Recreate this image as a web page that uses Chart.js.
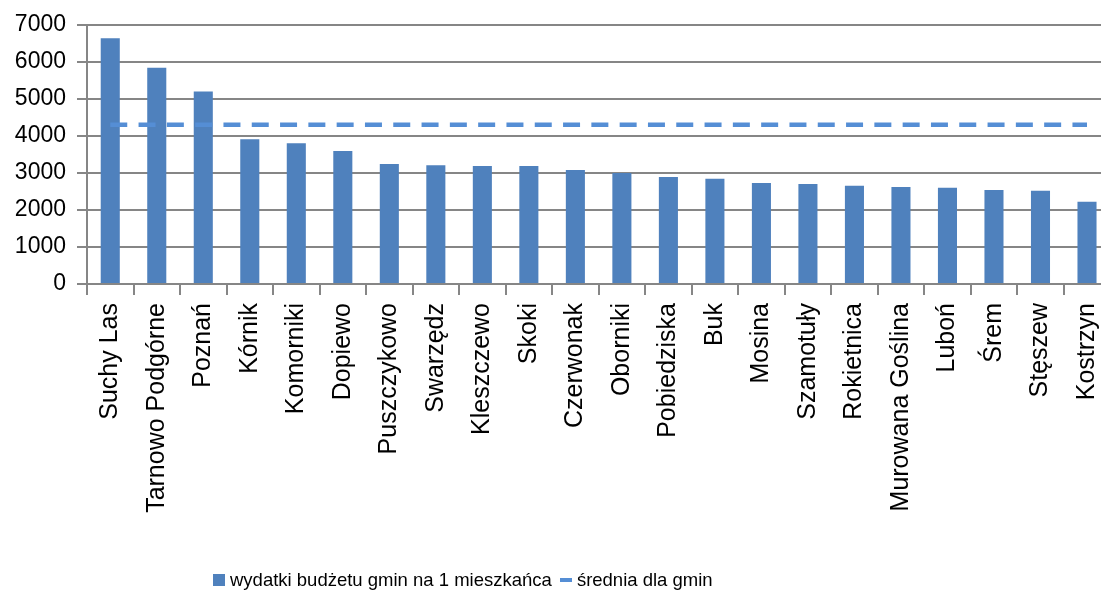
<!DOCTYPE html>
<html>
<head>
<meta charset="utf-8">
<script src="https://cdn.jsdelivr.net/npm/chart.js@4"></script>
<style>
    body { margin: 0; overflow: hidden; background: #fff; }
    #wrap { position: relative; width: 1101px; height: 593px; overflow: hidden; }
    #legend { position: absolute; left: 213px; top: 569px; display: flex; align-items: center;
              font-family: "Liberation Sans", Arial, sans-serif; font-size: 18.5px; color: #000; white-space: nowrap; }
    .item { display: flex; align-items: center; margin-right: 8px; }
    .marker { display: inline-block; margin-right: 5px; }
</style>
</head>
<body>
<div id="wrap">
    <canvas id="chart" width="1125" height="593"></canvas>
    <div id="legend"></div>
</div>
<script>
const gminy = ["Suchy Las", "Tarnowo Podgórne", "Poznań", "Kórnik", "Komorniki", "Dopiewo",
    "Puszczykowo", "Swarzędz", "Kleszczewo", "Skoki", "Czerwonak", "Oborniki", "Pobiedziska",
    "Buk", "Mosina", "Szamotuły", "Rokietnica", "Murowana Goślina", "Luboń", "Śrem", "Stęszew", "Kostrzyn"];
const wydatki = [6640, 5840, 5200, 3910, 3800, 3590, 3240, 3210, 3190, 3190, 3080, 3000, 2890,
    2840, 2730, 2700, 2650, 2620, 2600, 2540, 2520, 2220];
const srednia = 4300;
const yTicks = [0, 1000, 2000, 3000, 4000, 5000, 6000, 7000];

const gridGrey = "#868686";
const fontName = "'Liberation Sans', Arial, sans-serif";

const chart = new Chart(document.getElementById("chart").getContext("2d"), {
    data: {
        labels: gminy,
        datasets: [
            {
                type: "bar",
                label: "wydatki budżetu gmin na 1 mieszkańca",
                data: wydatki,
                backgroundColor: "#4F81BD",
                categoryPercentage: 1,
                barPercentage: 0.41,
                order: 2,
            },
            {
                type: "line",
                label: "średnia dla gmin",
                data: gminy.map(() => srednia),
                borderColor: "#558ED5",
                borderWidth: 4.5,
                borderDash: [17, 11.3],
                pointRadius: 0,
                fill: false,
                order: 1,
            },
        ],
    },
    options: {
        responsive: false,
        animation: false,
        layout: { padding: { top: 22, left: 0, right: 0, bottom: 0 } },
        plugins: {
            legend: { display: false },
            tooltip: { enabled: false },
        },
        scales: {
            x: {
                offset: true,
                grid: {
                    offset: true,
                    drawOnChartArea: false,
                    drawTicks: true,
                    tickLength: 11,
                    color: gridGrey,
                    lineWidth: 2,
                },
                border: { color: gridGrey, width: 2 },
                ticks: {
                    color: "#000",
                    font: { family: fontName, size: 25 },
                    maxRotation: 90,
                    minRotation: 90,
                    autoSkip: false,
                    padding: 8,
                },
                afterFit: (scale) => { scale.height = 309; },
            },
            y: {
                min: 0,
                max: 7000,
                afterBuildTicks: (scale) => { scale.ticks = yTicks.map((v) => ({ value: v })); },
                grid: { color: gridGrey, lineWidth: 2, tickLength: 10 },
                border: { color: gridGrey, width: 2 },
                ticks: {
                    color: "#000",
                    font: { family: fontName, size: 23 },
                    padding: 11,
                    callback: (value) => String(value),
                },
                afterFit: (scale) => { scale.width = 87; },
            },
        },
    },
});

// legend below the chart, built from the datasets
const legend = document.getElementById("legend");
chart.data.datasets.forEach((ds) => {
    const item = document.createElement("span");
    item.className = "item";
    const marker = document.createElement("span");
    marker.className = "marker";
    if (ds.type === "bar") {
        marker.style.width = "12px";
        marker.style.height = "12px";
        marker.style.background = ds.backgroundColor;
    } else {
        marker.style.width = "12px";
        marker.style.height = "4px";
        marker.style.background = ds.borderColor;
    }
    item.appendChild(marker);
    const text = document.createElement("span");
    text.innerText = ds.label;
    item.appendChild(text);
    legend.appendChild(item);
});
</script>
</body>
</html>
